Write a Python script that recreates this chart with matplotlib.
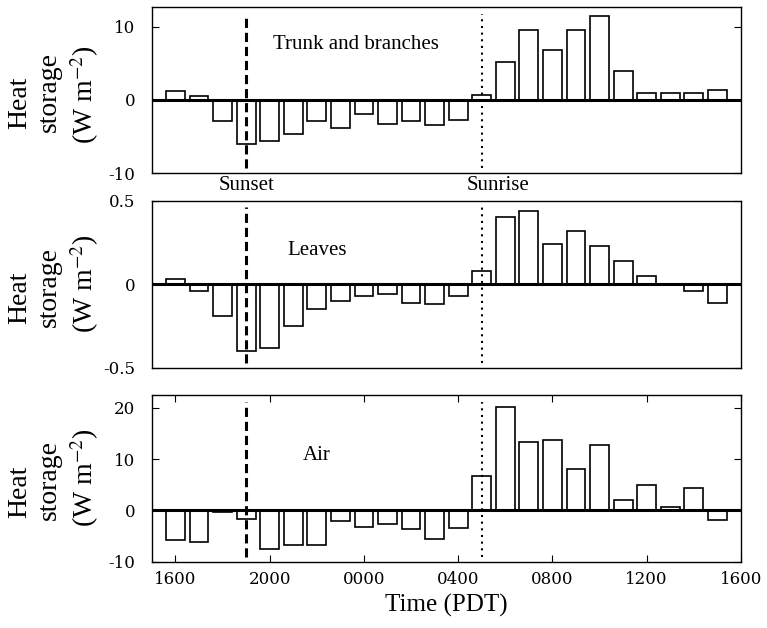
import numpy as np
import matplotlib
matplotlib.use('Agg')
import matplotlib.pyplot as plt

# hours after 1600 PDT (one bar per hour, 1600 ... 1500 next day)
hours = np.arange(24)

trunk = [1.2, 0.5, -2.9, -6.1, -5.6, -4.7, -2.9, -3.8, -1.9, -3.3, -2.9, -3.5,
         -2.7, 0.6, 5.2, 9.6, 6.8, 9.6, 11.4, 4.0, 1.0, 1.0, 1.0, 1.3]
leaves = [0.03, -0.04, -0.19, -0.40, -0.38, -0.25, -0.15, -0.10, -0.07, -0.06, -0.11, -0.12,
          -0.07, 0.08, 0.40, 0.44, 0.24, 0.32, 0.23, 0.14, 0.05, 0.0, -0.04, -0.11]
air = [-5.7, -6.1, -0.4, -1.7, -7.5, -6.7, -6.7, -2.0, -3.2, -2.7, -3.7, -5.5,
       -3.5, 6.7, 20.2, 13.4, 13.7, 8.1, 12.7, 2.1, 5.0, 0.6, 4.4, -1.9]

xtick_pos = [0, 4, 8, 12, 16, 20, 24]
xtick_labels = ['1600', '2000', '0000', '0400', '0800', '1200', '1600']
sunset = 3
sunrise = 13

plt.rcParams['font.family'] = 'serif'
plt.rcParams['font.serif'] = ['Liberation Serif']
plt.rcParams['mathtext.fontset'] = 'stix'
plt.rcParams['axes.unicode_minus'] = False

fig = plt.figure(figsize=(7.67, 6.28), dpi=100)

panels = [
    # data, ylim, yticks, ytick labels, title, title pos, axes box, label y (Heat, storage, units)
    (trunk, (-10, 12.7), [-10, 0, 10], ['-10', '0', '10'], 'Trunk and branches', (7.64, 7.5),
     [0.198, 0.7245, 0.768, 0.2645], (0.836, 0.854, 0.849)),
    (leaves, (-0.5, 0.5), [-0.5, 0, 0.5], ['-0.5', '0', '0.5'], 'Leaves', (6.0, 0.2),
     [0.198, 0.4145, 0.768, 0.266], (0.526, 0.543, 0.549)),
    (air, (-10, 22.5), [-10, 0, 10, 20], ['-10', '0', '10', '20'], 'Air', (6.0, 10.6),
     [0.198, 0.1056, 0.768, 0.2655], (0.217, 0.236, 0.239)),
]

axes = []
for i, (vals, ylim, yt, ytl, title, tpos, box, laby) in enumerate(panels):
    ax = fig.add_axes(box)
    axes.append(ax)
    ax.bar(hours, vals, width=0.8, color='white', edgecolor='black', linewidth=1.2, zorder=2)
    ax.axhline(0, color='black', linewidth=2.2, zorder=3)
    ax.axvline(sunset, ymin=0.03, ymax=0.96, color='black', linewidth=2.2,
               linestyle=(0, (3.0, 1.6)), zorder=4)
    ax.axvline(sunrise, ymin=0.03, ymax=0.96, color='black', linewidth=1.5,
               linestyle=(0, (1, 2.2)), zorder=4)
    ax.set_xlim(-1, 24)
    ax.set_ylim(*ylim)
    ax.set_yticks(yt)
    ax.set_yticklabels(ytl, fontfamily='DejaVu Serif', fontsize=12)
    ax.tick_params(axis='y', direction='in', length=5, left=True, right=True, pad=12)
    if i < 2:
        ax.set_xticks([])
    else:
        ax.set_xticks(xtick_pos)
        ax.set_xticklabels(xtick_labels, fontfamily='DejaVu Serif', fontsize=12)
        ax.tick_params(axis='x', direction='in', length=5, top=True, bottom=True, pad=7)
        ax.set_xlabel('Time (PDT)', fontsize=18, labelpad=4)
    for s in ax.spines.values():
        s.set_linewidth(1.0)
    ax.text(tpos[0], tpos[1], title, fontsize=15, ha='center', va='center')

    # y label, three lines
    fig.text(0.034, laby[0], 'Heat', fontsize=20, rotation=90, rotation_mode='anchor',
             ha='center', va='baseline')
    fig.text(0.073, laby[1], 'storage', fontsize=20, rotation=90, rotation_mode='anchor',
             ha='center', va='baseline')
    fig.text(0.122, laby[2], '(W m$^{-2}$)', fontsize=20, rotation=90, rotation_mode='anchor',
             ha='center', va='baseline')

top = axes[0]
top.text(sunset, -0.078, 'Sunset', transform=top.get_xaxis_transform(),
         fontsize=15, ha='center', va='center', clip_on=False)
top.text(sunrise + 0.7, -0.078, 'Sunrise', transform=top.get_xaxis_transform(),
         fontsize=15, ha='center', va='center', clip_on=False)

fig.savefig('out.png', dpi=100)
